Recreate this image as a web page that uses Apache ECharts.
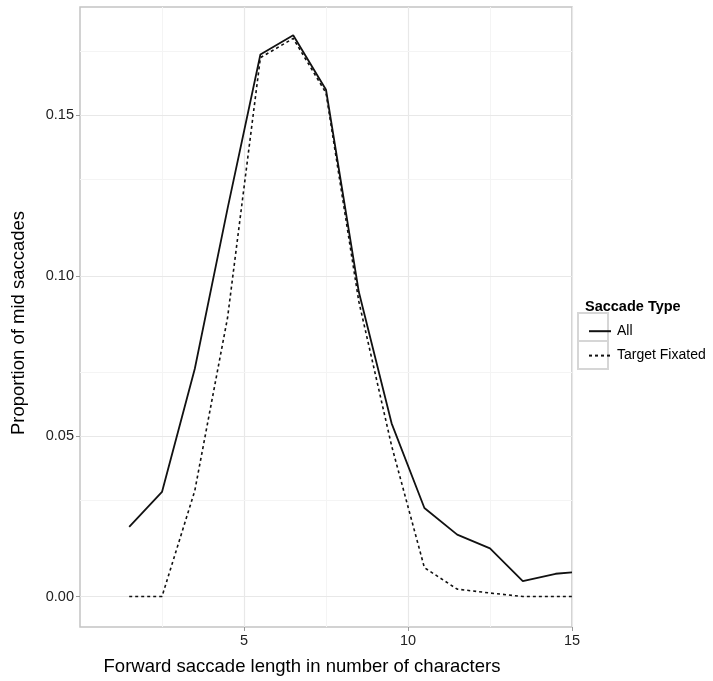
<!DOCTYPE html>
<html>
<head>
<meta charset="utf-8">
<script src="https://cdn.jsdelivr.net/npm/echarts@6/dist/echarts.min.js"></script>
<style>
  html, body { margin: 0; padding: 0; background: #fff; }
  #main { width: 713px; height: 681px; }
</style>
</head>
<body>
<div id="main"></div>
<script>
// data
var saccade_length = [1.5, 2.5, 3.5, 4.5, 5.5, 6.5, 7.5, 8.5, 9.5, 10.5, 11.5, 12.5, 13.5, 14.5, 15];
var all_prop = [0.0217, 0.0326, 0.071, 0.121, 0.169, 0.175, 0.158, 0.095, 0.054, 0.0276, 0.0193, 0.0150, 0.0048, 0.0071, 0.0075];
var target_prop = [0, 0, 0.033, 0.087, 0.168, 0.174, 0.157, 0.092, 0.047, 0.009, 0.0023, 0.0011, 0, 0, 0];

var y_ticks = [0, 0.05, 0.10, 0.15];
var y_minor = [0.025, 0.075, 0.125, 0.175];
var x_ticks = [5, 10, 15];

var font = 'Liberation Sans, Arial, Helvetica, sans-serif';

function pairs(xs, ys) {
    return xs.map(function (x, i) { return [x, ys[i]]; });
}

var chart = echarts.init(document.getElementById('main'));

// grid lines on y drawn as markLines (axis min is not a tick)
var grid_lines = [];
y_minor.forEach(function (v) {
    grid_lines.push({ yAxis: v, lineStyle: { color: '#f4f4f4', width: 1, type: 'solid' } });
});
y_ticks.forEach(function (v) {
    grid_lines.push({ yAxis: v, lineStyle: { color: '#e8e8e8', width: 1.2, type: 'solid' } });
});

var option = {
    animation: false,
    backgroundColor: '#fff',
    grid: {
        left: 80, right: 141, top: 7, bottom: 53,
        show: true, borderColor: '#c4c4c4', borderWidth: 1.5, backgroundColor: '#fff'
    },
    title: {
        text: 'Saccade Type',
        left: 580, top: 294,
        textStyle: { fontFamily: font, fontSize: 14.5, fontWeight: 'bold', color: '#000' }
    },
    legend: {
        orient: 'vertical',
        left: 583, top: 319,
        itemWidth: 22, itemHeight: 18, itemGap: 10,
        itemStyle: { opacity: 0 },
        data: ['All', 'Target Fixated'],
        textStyle: { fontFamily: font, fontSize: 14, color: '#000', padding: [0, 0, 0, 1] }
    },
    graphic: [
        { type: 'rect', z: 0, shape: { x: 578, y: 313, width: 30, height: 28 }, style: { fill: '#fff', stroke: '#d6d6d6', lineWidth: 2 } },
        { type: 'rect', z: 0, shape: { x: 578, y: 341, width: 30, height: 28 }, style: { fill: '#fff', stroke: '#d6d6d6', lineWidth: 2 } }
    ],
    xAxis: {
        type: 'value',
        min: 0, max: 15, interval: 5,
        name: 'Forward saccade length in number of characters',
        nameLocation: 'middle', nameGap: 30,
        nameTextStyle: { fontFamily: font, fontSize: 18.5, color: '#000', padding: [0, 48, 0, 0] },
        axisLine: { show: false, onZero: false },
        axisTick: { show: true, length: 4, lineStyle: { color: '#999' }, customValues: x_ticks },
        axisLabel: { fontFamily: font, fontSize: 14.5, color: '#222', margin: 6, customValues: x_ticks },
        splitLine: { show: true, lineStyle: { color: '#e8e8e8', width: 1.2 } },
        minorTick: { show: false, splitNumber: 2 },
        minorSplitLine: { show: true, lineStyle: { color: '#f4f4f4', width: 1 } }
    },
    yAxis: {
        type: 'value',
        min: -0.0095, max: 0.1838,
        name: 'Proportion of mid saccades',
        nameLocation: 'middle', nameGap: 52,
        nameTextStyle: { fontFamily: font, fontSize: 18.5, color: '#000', padding: [0, 12, 0, 0] },
        axisLine: { show: false, onZero: false },
        axisTick: { show: true, length: 4, lineStyle: { color: '#999' }, customValues: y_ticks },
        axisLabel: {
            fontFamily: font, fontSize: 14.5, color: '#222', margin: 6, customValues: y_ticks,
            formatter: function (v) { return v.toFixed(2); }
        },
        splitLine: { show: false }
    },
    series: [
        {
            name: 'All',
            type: 'line',
            data: pairs(saccade_length, all_prop),
            symbol: 'none',
            z: 3,
            lineStyle: { color: '#111', width: 1.8, type: 'solid' },
            itemStyle: { color: '#111' },
            markLine: {
                silent: true, symbol: 'none', label: { show: false }, z: 1,
                data: grid_lines
            }
        },
        {
            name: 'Target Fixated',
            type: 'line',
            data: pairs(saccade_length, target_prop),
            symbol: 'none',
            z: 2,
            lineStyle: { color: '#111', width: 1.6, type: [3, 3] },
            itemStyle: { color: '#111' }
        }
    ]
};

chart.setOption(option);
</script>
</body>
</html>
